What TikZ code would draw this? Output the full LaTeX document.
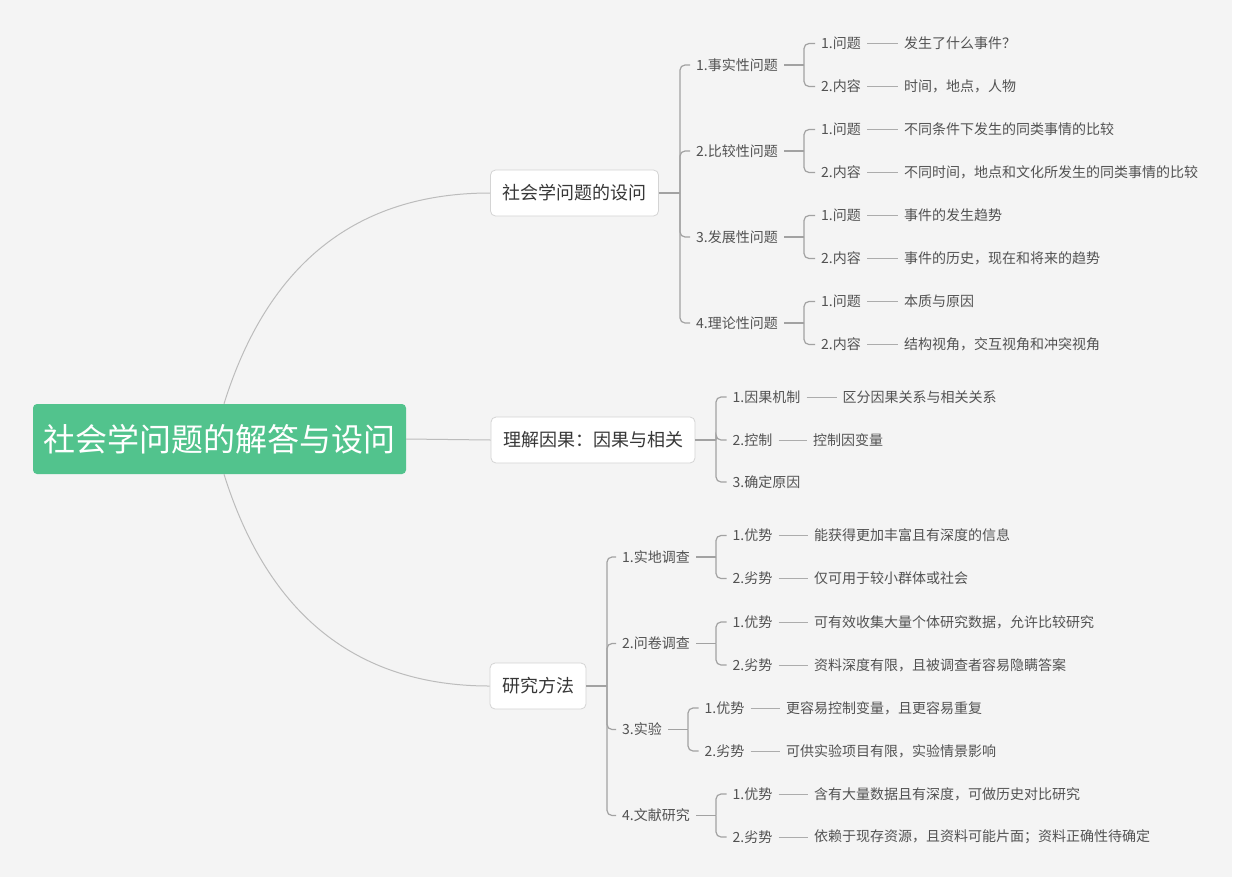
\documentclass[tikz,border=0pt]{standalone}
\usepackage{fontspec}
\setmainfont{Noto Sans CJK SC}
\definecolor{bg}{RGB}{244,244,244}
\definecolor{rootgreen}{RGB}{82,195,141}
\definecolor{boxline}{RGB}{212,212,212}
\definecolor{brline}{RGB}{162,162,162}
\definecolor{lfline}{RGB}{172,172,172}
\definecolor{cvline}{RGB}{188,188,188}
\definecolor{txt}{RGB}{82,82,82}
\definecolor{txtdark}{RGB}{55,55,55}
\begin{document}
\begin{tikzpicture}[x=1pt,y=-1pt,
 rootbox/.style={fill=rootgreen, rounded corners=4pt, text=white, font=\fontsize{32}{36}\selectfont, minimum width=373pt, minimum height=70pt, inner sep=0pt},
 mainbox/.style={draw=boxline, fill=white, rounded corners=5pt, line width=0.8pt, text=txtdark, font=\fontsize{18}{22}\selectfont, inner xsep=12pt, minimum height=46pt},
 lbl/.style={anchor=west, text=txt, font=\fontsize{14}{17}\selectfont, inner xsep=6pt, inner ysep=2pt},
 br/.style={draw=brline, line width=1.2pt, rounded corners=5pt},
 lf/.style={draw=lfline, line width=0.9pt},
 cv/.style={draw=cvline, line width=1pt}]

\fill[white] (0,0) rectangle (1240,884);
\fill[bg] (0,0) rectangle (1232,877);
\useasboundingbox (0,0) rectangle (1240,884);

% root
\node[rootbox] (root) at (219.5,439) {社会学问题的解答与设问};

% main boxes
\node[mainbox] (A) at (574.5,193) {社会学问题的设问};
\node[mainbox] (B) at (593,440) {理解因果：因果与相关};
\node[mainbox] (C) at (538,686) {研究方法};

\draw[cv] ([xshift=4.5pt]root.north) .. controls (268,263) and (357,193) .. (A.west);
\draw[cv] (root.east) -- (B.west);
\draw[cv] ([xshift=4.5pt]root.south) .. controls (268,615) and (357,686) .. (C.west);

% ---------- branch A ----------
\coordinate (Ab) at (680,193);
\draw[br] (A.east) -- (Ab);
\foreach \i/\y/\p/\la/\lb in {
 1/65/{1.事实性问题}/{发生了什么事件？}/{时间，地点，人物},
 2/151/{2.比较性问题}/{不同条件下发生的同类事情的比较}/{不同时间，地点和文化所发生的同类事情的比较},
 3/237/{3.发展性问题}/{事件的发生趋势}/{事件的历史，现在和将来的趋势},
 4/323/{4.理论性问题}/{本质与原因}/{结构视角，交互视角和冲突视角}}
{
 \node[lbl] (a\i) at (690,\y) {\p};
 \draw[br] (Ab) |- (a\i.west);
 \coordinate (a\i b) at (804,\y);
 \draw[br] (a\i.east) -- (a\i b);
 \node[lbl] (a\i-g1) at (815,\y-21.5) {1.问题};
 \node[lbl] (a\i-g2) at (815,\y+21.5) {2.内容};
 \draw[br] (a\i b) |- (a\i-g1.west);
 \draw[br] (a\i b) |- (a\i-g2.west);
 \node[lbl] (a\i-l1) at (898,\y-21.5) {\la};
 \node[lbl] (a\i-l2) at (898,\y+21.5) {\lb};
 \draw[lf] (a\i-g1.east) -- (a\i-l1.west);
 \draw[lf] (a\i-g2.east) -- (a\i-l2.west);
}

% ---------- branch B ----------
\coordinate (Bb) at (716,440);
\draw[br] (B.east) -- (Bb);
\node[lbl] (b1) at (726.5,397) {1.因果机制};
\node[lbl] (b2) at (726.5,440) {2.控制};
\node[lbl] (b3) at (726.5,482) {3.确定原因};
\foreach \n in {b1,b2,b3} \draw[br] (Bb) |- (\n.west);
\node[lbl] (b1-l) at (836.5,397) {区分因果关系与相关关系};
\node[lbl] (b2-l) at (807,440) {控制因变量};
\draw[lf] (b1.east) -- (b1-l.west);
\draw[lf] (b2.east) -- (b2-l.west);

% ---------- branch C ----------
\coordinate (Cb) at (607,686);
\draw[br] (C.east) -- (Cb);
\foreach \i/\y/\p/\bx/\la/\lb in {
 1/557/{1.实地调查}/716/{能获得更加丰富且有深度的信息}/{仅可用于较小群体或社会},
 2/643.5/{2.问卷调查}/716/{可有效收集大量个体研究数据，允许比较研究}/{资料深度有限，且被调查者容易隐瞒答案},
 3/729.5/{3.实验}/688/{更容易控制变量，且更容易重复}/{可供实验项目有限，实验情景影响},
 4/815.5/{4.文献研究}/716/{含有大量数据且有深度，可做历史对比研究}/{依赖于现存资源，且资料可能片面；资料正确性待确定}}
{
 \node[lbl] (c\i) at (616,\y) {\p};
 \draw[br] (Cb) |- (c\i.west);
 \coordinate (c\i b) at (\bx,\y);
 \draw[br] (c\i.east) -- (c\i b);
 \node[lbl] (c\i-g1) at (\bx+10.5,\y-21.5) {1.优势};
 \node[lbl] (c\i-g2) at (\bx+10.5,\y+21.5) {2.劣势};
 \draw[br] (c\i b) |- (c\i-g1.west);
 \draw[br] (c\i b) |- (c\i-g2.west);
 \node[lbl] (c\i-l1) at (\bx+92,\y-21.5) {\la};
 \node[lbl] (c\i-l2) at (\bx+92,\y+21.5) {\lb};
 \draw[lf] (c\i-g1.east) -- (c\i-l1.west);
 \draw[lf] (c\i-g2.east) -- (c\i-l2.west);
}
\end{tikzpicture}
\end{document}
